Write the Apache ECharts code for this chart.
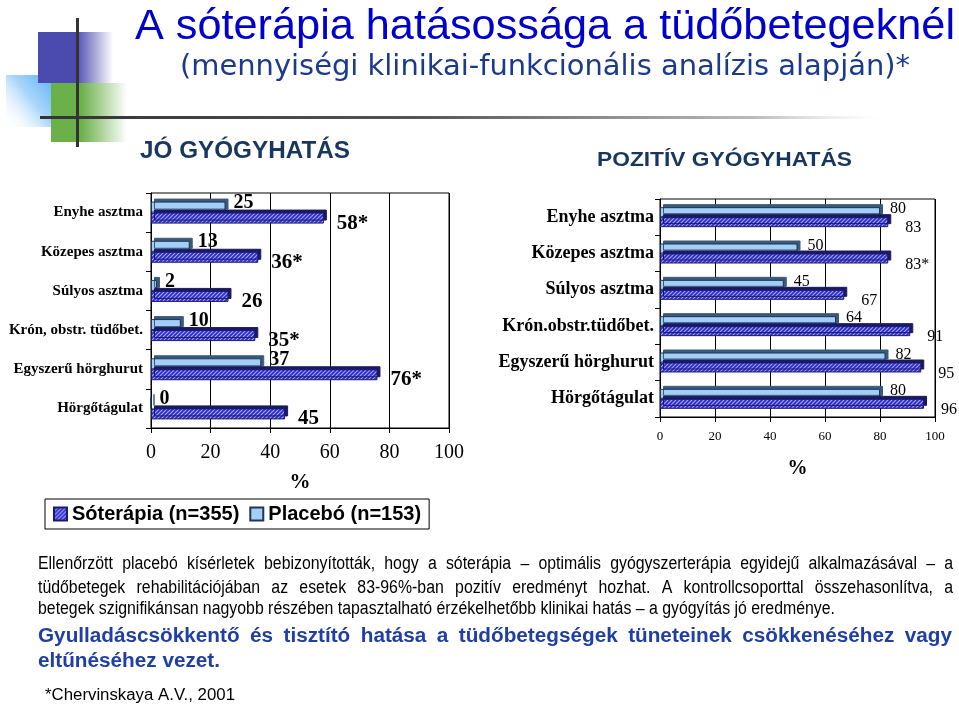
<!DOCTYPE html>
<html>
<head>
<meta charset="utf-8">
<script src="https://cdn.jsdelivr.net/npm/echarts@6.0.0/dist/echarts.min.js"></script>
<style>
html,body{margin:0;padding:0;background:#fff;}
#chart{width:959px;height:705px;}
</style>
</head>
<body>
<div id="chart"></div>
<script>
// ---- data ----
const categoriesLeft = ['Enyhe asztma', 'Közepes asztma', 'Súlyos asztma', 'Krón, obstr. tüdőbet.', 'Egyszerű hörghurut', 'Hörgőtágulat'];
const categoriesRight = ['Enyhe asztma', 'Közepes asztma', 'Súlyos asztma', 'Krón.obstr.tüdőbet.', 'Egyszerű hörghurut', 'Hörgőtágulat'];
const goodPlacebo = [25, 13, 2, 10, 37, 0];
const goodSalt = [58, 36, 26, 35, 76, 45];
const goodSaltSignificant = [true, true, false, true, true, false];
const posPlacebo = [80, 50, 45, 64, 82, 80];
const posSalt = [83, 83, 67, 91, 95, 96];
const posSaltSignificant = [false, true, false, false, false, false];
const saltName = 'Sóterápia (n=355)';
const placeboName = 'Placebó (n=153)';
const axisMin = 0, axisMax = 100, axisStep = 20;

const titleText = 'A sóterápia hatásossága a tüdőbetegeknél';
const subtitleText = '(mennyiségi klinikai-funkcionális analízis alapján)*';
const leftHeading = 'JÓ GYÓGYHATÁS';
const rightHeading = 'POZITÍV GYÓGYHATÁS';
const paraLines = [
  'Ellenőrzött placebó kísérletek bebizonyították, hogy a sóterápia – optimális gyógyszerterápia egyidejű alkalmazásával – a',
  'tüdőbetegek rehabilitációjában az esetek 83-96%-ban pozitív eredményt hozhat. A kontrollcsoporttal összehasonlítva, a',
  'betegek szignifikánsan nagyobb részében tapasztalható érzékelhetőbb klinikai hatás – a gyógyítás jó eredménye.'
];
const boldLines = [
  'Gyulladáscsökkentő és tisztító hatása a tüdőbetegségek tüneteinek csökkenéséhez vagy',
  'eltűnéséhez vezet.'
];
const footnote = '*Chervinskaya A.V., 2001';

// ---- helpers ----
const mctx = document.createElement('canvas').getContext('2d');
function measure(text, font) { mctx.font = font; return mctx.measureText(text).width; }

function hatch() {
  const c = document.createElement('canvas');
  c.width = 4; c.height = 4;
  const g = c.getContext('2d');
  g.fillStyle = '#2B2BC8';
  g.fillRect(0, 0, 4, 4);
  g.strokeStyle = '#A8A8FF';
  g.lineWidth = 1.1;
  g.beginPath();
  g.moveTo(0, 4); g.lineTo(4, 0);
  g.moveTo(-1, 1); g.lineTo(1, -1);
  g.moveTo(3, 5); g.lineTo(5, 3);
  g.stroke();
  return c;
}
const hatchPattern = { image: hatch(), repeat: 'repeat' };

const graphics = [];
function fitText(text, x, y, size, weight, family, color, targetW) {
  const font = weight + ' ' + size + 'px ' + family;
  const w = measure(text, font);
  graphics.push({
    type: 'text', x: x, y: y, scaleX: targetW ? targetW / w : 1, z: 10,
    style: { text: text, font: font, fill: color, align: 'left', verticalAlign: 'middle' }
  });
}
function justifyLine(text, x0, x1, y, font, color, scale) {
  const words = text.split(/\s+/);
  const widths = words.map(w => measure(w, font) * scale);
  const total = widths.reduce((a, b) => a + b, 0);
  const gap = (x1 - x0 - total) / (words.length - 1);
  let x = x0;
  words.forEach((w, i) => {
    graphics.push({ type: 'text', x: x, y: y, scaleX: scale, z: 10,
      style: { text: w, font: font, fill: color, align: 'left', verticalAlign: 'middle' } });
    x += widths[i] + gap;
  });
}

// ---- decoration ----
graphics.push(
  { type: 'rect', shape: { x: 6, y: 75, width: 64, height: 52 }, z: 1,
    style: { fill: new echarts.graphic.LinearGradient(1, 0, 0, 1, [
      { offset: 0, color: '#3FA2F2' }, { offset: 0.55, color: '#A9D6FA' }, { offset: 1, color: 'rgba(255,255,255,0)' }]) } },
  { type: 'rect', shape: { x: 38, y: 32, width: 75, height: 51 }, z: 2,
    style: { fill: new echarts.graphic.LinearGradient(0, 0, 1, 0, [
      { offset: 0, color: '#4A4AAF' }, { offset: 0.5, color: '#4A4AAF' }, { offset: 1, color: 'rgba(74,74,175,0)' }]) } },
  { type: 'rect', shape: { x: 51, y: 83, width: 76, height: 59 }, z: 3,
    style: { fill: new echarts.graphic.LinearGradient(0, 0, 1, 0, [
      { offset: 0, color: '#6BB14A' }, { offset: 0.4, color: '#6BB14A' }, { offset: 1, color: 'rgba(107,177,74,0)' }]) } },
  { type: 'rect', shape: { x: 40, y: 116, width: 840, height: 3 }, z: 4,
    style: { fill: new echarts.graphic.LinearGradient(0, 0, 1, 0, [
      { offset: 0, color: '#333333' }, { offset: 0.45, color: '#555555' }, { offset: 0.85, color: '#BBBBBB' }, { offset: 1, color: 'rgba(220,220,220,0)' }]) } },
  { type: 'rect', shape: { x: 76, y: 18, width: 3, height: 129 }, z: 5, style: { fill: '#333333' } }
);

// ---- texts ----
const sans = "'Liberation Sans', Arial, sans-serif";
const tahomaLike = "'DejaVu Sans', Verdana, sans-serif";
fitText(titleText, 135, 27, 43, 'normal', sans, '#0000CC', 820);
fitText(subtitleText, 180, 67, 29, 'normal', tahomaLike, '#1C3A8C', 730);
fitText(leftHeading, 140, 152, 23, 'bold', sans, '#17375E', 210);
fitText(rightHeading, 597, 160, 21, 'bold', sans, '#17375E', 255);

const pFont = 'normal 18px ' + sans;
const pScale = 797 / measure(paraLines[2], pFont);
justifyLine(paraLines[0], 38, 953, 564, pFont, '#000', pScale);
justifyLine(paraLines[1], 38, 953, 588, pFont, '#000', pScale);
graphics.push({ type: 'text', x: 38, y: 609, scaleX: pScale, z: 10,
  style: { text: paraLines[2], font: pFont, fill: '#000', align: 'left', verticalAlign: 'middle' } });

const bFont = 'bold 20px ' + sans;
const bScale = 182 / measure(boldLines[1], bFont);
justifyLine(boldLines[0], 38, 952, 636, bFont, '#1F3FA5', bScale);
graphics.push({ type: 'text', x: 38, y: 661, scaleX: bScale, z: 10,
  style: { text: boldLines[1], font: bFont, fill: '#1F3FA5', align: 'left', verticalAlign: 'middle' } });

fitText(footnote, 45, 696, 16, 'normal', sans, '#000', 190);

// ---- chart ----
const serif = "'Liberation Serif', 'Times New Roman', serif";
function labelWith(sig) {
  return p => p.value + (sig[p.dataIndex] ? '*' : '');
}
function valueAxis(gridIndex, fontSize, margin, nameGap, nameSize) {
  return {
    type: 'value', gridIndex: gridIndex, min: axisMin, max: axisMax, interval: axisStep,
    name: '%', nameLocation: 'middle', nameGap: nameGap,
    nameTextStyle: { fontFamily: serif, fontSize: nameSize, fontWeight: 'bold', color: '#000' },
    axisLine: { show: true, lineStyle: { color: '#000', width: 1 } },
    axisTick: { show: true, length: 5, lineStyle: { color: '#000' } },
    axisLabel: { fontFamily: serif, fontSize: fontSize, color: '#000', margin: margin },
    splitLine: { show: true, lineStyle: { color: '#000', width: 1 } }
  };
}
function catAxis(gridIndex, cats, fontSize, margin) {
  return {
    type: 'category', gridIndex: gridIndex, data: cats, inverse: true,
    axisLine: { show: true, lineStyle: { color: '#000', width: 1 } },
    axisTick: { show: true, length: 5, lineStyle: { color: '#000' } },
    axisLabel: { fontFamily: serif, fontSize: fontSize, fontWeight: 'bold', color: '#000', margin: margin }
  };
}
const placeboStyle = { color: '#A3CEF7', borderColor: '#1F3552', borderWidth: 1,
  shadowColor: '#3A5A7A', shadowOffsetX: 3, shadowOffsetY: -3, shadowBlur: 0 };
const saltStyle = { color: hatchPattern, borderColor: '#1A1A70', borderWidth: 1,
  shadowColor: '#1A1A60', shadowOffsetX: 3, shadowOffsetY: -3, shadowBlur: 0 };

const option = {
  animation: false,
  backgroundColor: '#ffffff',
  legend: {
    left: 45, top: 499, orient: 'horizontal',
    data: [saltName, placeboName],
    borderColor: '#000', borderWidth: 1, padding: [5, 8, 5, 8],
    itemWidth: 13, itemHeight: 13, itemGap: 10, icon: 'rect',
    textStyle: { fontFamily: sans, fontSize: 20, fontWeight: 'bold', color: '#000' }
  },
  grid: [
    { left: 151, top: 193, width: 298, height: 235, show: true, borderColor: '#000', borderWidth: 1, outerBoundsMode: 'none', containLabel: false },
    { left: 660, top: 199, width: 275, height: 218, show: true, borderColor: '#000', borderWidth: 1, outerBoundsMode: 'none', containLabel: false }
  ],
  xAxis: [valueAxis(0, 20, 15, 44, 21), valueAxis(1, 13, 13, 42, 20)],
  yAxis: [catAxis(0, categoriesLeft, 15, 8), catAxis(1, categoriesRight, 18, 6)],
  series: [
    { name: placeboName, type: 'bar', xAxisIndex: 0, yAxisIndex: 0, data: goodPlacebo,
      barWidth: 11, barGap: '0%', itemStyle: placeboStyle,
      label: { show: true, position: 'right', distance: 8, offset: [0, -4],
        fontFamily: serif, fontSize: 20, fontWeight: 'bold', color: '#000' } },
    { name: saltName, type: 'bar', xAxisIndex: 0, yAxisIndex: 0, data: goodSalt,
      barWidth: 11, barGap: '0%', itemStyle: saltStyle,
      label: { show: true, position: 'right', distance: 13, offset: [0, 5],
        formatter: labelWith(goodSaltSignificant),
        fontFamily: serif, fontSize: 21, fontWeight: 'bold', color: '#000' } },
    { name: placeboName, type: 'bar', xAxisIndex: 1, yAxisIndex: 1, data: posPlacebo,
      barWidth: 10, barGap: '0%', itemStyle: placeboStyle,
      label: { show: true, position: 'right', distance: 10, offset: [0, -3],
        fontFamily: serif, fontSize: 16, color: '#000' } },
    { name: saltName, type: 'bar', xAxisIndex: 1, yAxisIndex: 1, data: posSalt,
      barWidth: 10, barGap: '0%', itemStyle: saltStyle,
      label: { show: true, position: 'right', distance: 17, offset: [0, 6],
        formatter: labelWith(posSaltSignificant),
        fontFamily: serif, fontSize: 16, color: '#000' } }
  ],
  graphic: { elements: graphics }
};

const chart = echarts.init(document.getElementById('chart'), null, { renderer: 'canvas' });
chart.setOption(option);
</script>
</body>
</html>
